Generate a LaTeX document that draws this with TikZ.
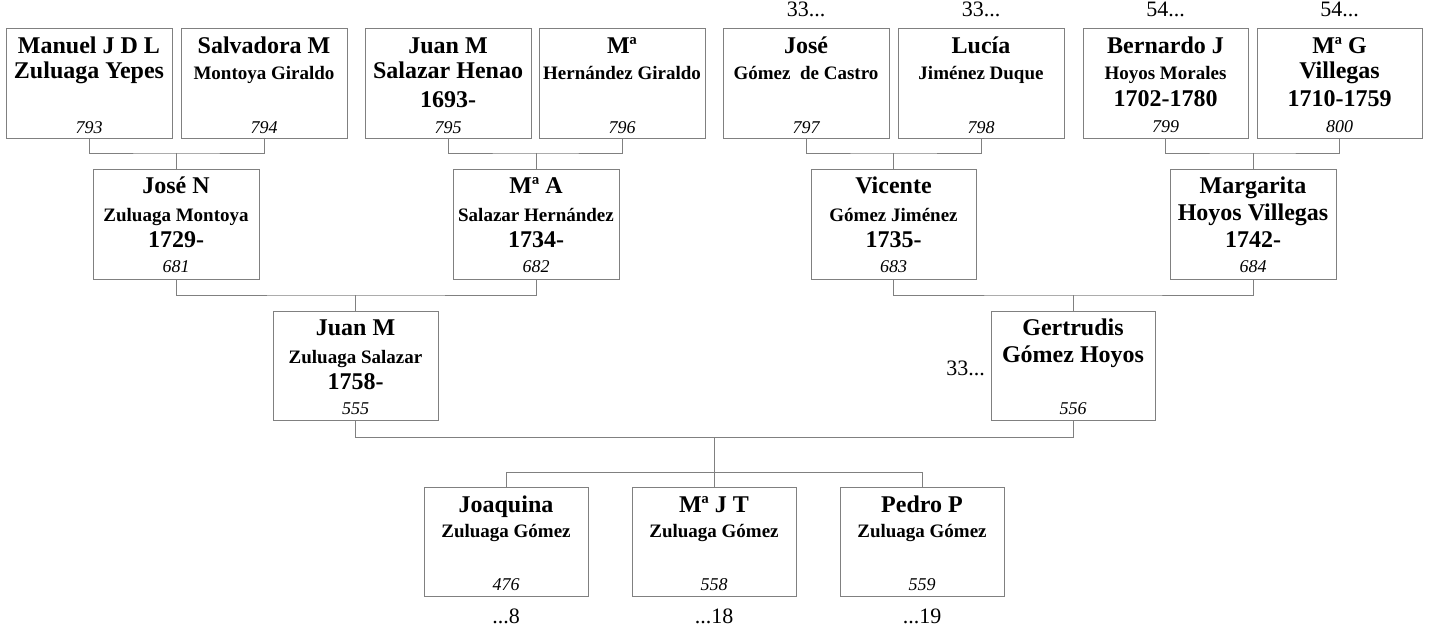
\documentclass[tikz,border=0pt]{standalone}
\usepackage{fontspec}
\setmainfont{Liberation Serif}

\begin{document}
\begin{tikzpicture}[x=1pt, y=-1pt,
  box/.style={draw=black!50, line width=1pt, minimum height=110pt, inner sep=0pt},
  link/.style={draw=black!50, line width=1pt},
  nm/.style={anchor=base, inner sep=0pt, font=\fontsize{24}{28}\selectfont\bfseries},
  sn/.style={anchor=base, inner sep=0pt, font=\fontsize{19}{22}\selectfont\bfseries},
  nr/.style={anchor=base, inner sep=0pt, font=\fontsize{18}{21}\selectfont\itshape},
  gen/.style={anchor=base, inner sep=0pt, font=\fontsize{22}{26}\selectfont}]
  \useasboundingbox (0,0) rectangle (1429,625);

  % --- bisabuelos ---
  \node[box, minimum width=166pt] (b793) at (89,83) {};
  \node[nm] (f793) at (89,53) {Manuel J D L};
  \node[nm] (s793) at (89,78) {Zuluaga Yepes};
  \node[nr] (n793) at (89,133) {793};

  \node[box, minimum width=166pt] (b794) at (264,83) {};
  \node[nm] (f794) at (264,53) {Salvadora M};
  \node[sn] (s794) at (264,79) {Montoya Giraldo};
  \node[nr] (n794) at (264,133) {794};

  \node[box, minimum width=166pt] (b795) at (448,83) {};
  \node[nm] (f795) at (448,53) {Juan M};
  \node[nm] (s795) at (448,78) {Salazar Henao};
  \node[nm] (y795) at (448,107) {1693-};
  \node[nr] (n795) at (448,133) {795};

  \node[box, minimum width=166pt] (b796) at (622,83) {};
  \node[nm] (f796) at (622,53) {Mª};
  \node[sn] (s796) at (622,79) {Hernández Giraldo};
  \node[nr] (n796) at (622,133) {796};

  \node[box, minimum width=166pt] (b797) at (806,83) {};
  \node[nm] (f797) at (806,53) {José};
  \node[sn] (s797) at (806,79) {Gómez~ de Castro};
  \node[nr] (n797) at (806,133) {797};
  \node[gen] (g797) at (806,16) {33...};

  \node[box, minimum width=166pt] (b798) at (981,83) {};
  \node[nm] (f798) at (981,53) {Lucía};
  \node[sn] (s798) at (981,79) {Jiménez Duque};
  \node[nr] (n798) at (981,133) {798};
  \node[gen] (g798) at (981,16) {33...};

  \node[box, minimum width=165pt] (b799) at (1165.5,83) {};
  \node[nm] (f799) at (1165.5,53) {Bernardo J};
  \node[sn] (s799) at (1165.5,79) {Hoyos Morales};
  \node[nm] (y799) at (1165.5,106) {1702-1780};
  \node[nr] (n799) at (1165.5,132) {799};
  \node[gen] (g799) at (1165.5,16) {54...};

  \node[box, minimum width=165pt] (b800) at (1339.5,83) {};
  \node[nm] (f800) at (1339.5,53) {Mª G};
  \node[nm] (s800) at (1339.5,78) {Villegas};
  \node[nm] (y800) at (1339.5,106) {1710-1759};
  \node[nr] (n800) at (1339.5,132) {800};
  \node[gen] (g800) at (1339.5,16) {54...};

  % --- abuelos ---
  \node[box, minimum width=166pt] (b681) at (176,224) {};
  \node[nm] (f681) at (176,193) {José N};
  \node[sn] (s681) at (176,221) {Zuluaga Montoya};
  \node[nm] (y681) at (176,247) {1729-};
  \node[nr] (n681) at (176,272) {681};

  \node[box, minimum width=166pt] (b682) at (536,224) {};
  \node[nm] (f682) at (536,193) {Mª A};
  \node[sn] (s682) at (536,221) {Salazar Hernández};
  \node[nm] (y682) at (536,247) {1734-};
  \node[nr] (n682) at (536,272) {682};

  \node[box, minimum width=165pt] (b683) at (893.5,224) {};
  \node[nm] (f683) at (893.5,193) {Vicente};
  \node[sn] (s683) at (893.5,221) {Gómez Jiménez};
  \node[nm] (y683) at (893.5,247) {1735-};
  \node[nr] (n683) at (893.5,272) {683};

  \node[box, minimum width=166pt] (b684) at (1253,224) {};
  \node[nm] (f684) at (1253,193) {Margarita};
  \node[nm] (s684) at (1253,220) {Hoyos Villegas};
  \node[nm] (y684) at (1253,247) {1742-};
  \node[nr] (n684) at (1253,272) {684};

  % --- padres ---
  \node[box, minimum width=165pt, minimum height=109pt] (b555) at (355.5,365.5) {};
  \node[nm] (f555) at (355.5,335) {Juan M};
  \node[sn] (s555) at (355.5,363) {Zuluaga Salazar};
  \node[nm] (y555) at (355.5,389) {1758-};
  \node[nr] (n555) at (355.5,414) {555};

  \node[box, minimum width=164pt, minimum height=109pt] (b556) at (1073,365.5) {};
  \node[nm] (f556) at (1073,335) {Gertrudis};
  \node[nm] (s556) at (1073,362) {Gómez Hoyos};
  \node[nr] (n556) at (1073,414) {556};
  \node[gen, anchor=base east] (g556) at (985,375) {33...};

  % --- hijos ---
  \node[box, minimum width=164pt, minimum height=109pt] (b476) at (506,541.5) {};
  \node[nm] (f476) at (506,512) {Joaquina};
  \node[sn] (s476) at (506,537) {Zuluaga Gómez};
  \node[nr] (n476) at (506,590) {476};
  \node[gen] (g476) at (506,623) {...8};

  \node[box, minimum width=164pt, minimum height=109pt] (b558) at (714,541.5) {};
  \node[nm] (f558) at (714,512) {Mª J T};
  \node[sn] (s558) at (714,537) {Zuluaga Gómez};
  \node[nr] (n558) at (714,590) {558};
  \node[gen] (g558) at (714,623) {...18};

  \node[box, minimum width=164pt, minimum height=109pt] (b559) at (922,541.5) {};
  \node[nm] (f559) at (922,512) {Pedro P};
  \node[sn] (s559) at (922,537) {Zuluaga Gómez};
  \node[nr] (n559) at (922,590) {559};
  \node[gen] (g559) at (922,623) {...19};

  % --- uniones ---
  \coordinate (j1) at (176,153);
  \coordinate (j2) at (536,153);
  \coordinate (j3) at (893.5,153);
  \coordinate (j4) at (1253,153);
  \coordinate (j5) at (355.5,295);
  \coordinate (j6) at (1073,295);
  \coordinate (j7) at (714,437);
  \coordinate (j8) at (714,472);

  \draw[link] (b793.south) |- (j1) -| (b794.south);
  \draw[link] (j1) -- (b681.north);
  \draw[link] (b795.south) |- (j2) -| (b796.south);
  \draw[link] (j2) -- (b682.north);
  \draw[link] (b797.south) |- (j3) -| (b798.south);
  \draw[link] (j3) -- (b683.north);
  \draw[link] (b799.south) |- (j4) -| (b800.south);
  \draw[link] (j4) -- (b684.north);
  \draw[link] (b681.south) |- (j5) -| (b682.south);
  \draw[link] (j5) -- (b555.north);
  \draw[link] (b683.south) |- (j6) -| (b684.south);
  \draw[link] (j6) -- (b556.north);
  \draw[link] (b555.south) |- (j7) -| (b556.south);
  \draw[link] (j7) -- (j8);
  \draw[link] (b476.north) |- (j8) -| (b559.north);
  \draw[link] (j8) -- (b558.north);
\end{tikzpicture}
\end{document}
